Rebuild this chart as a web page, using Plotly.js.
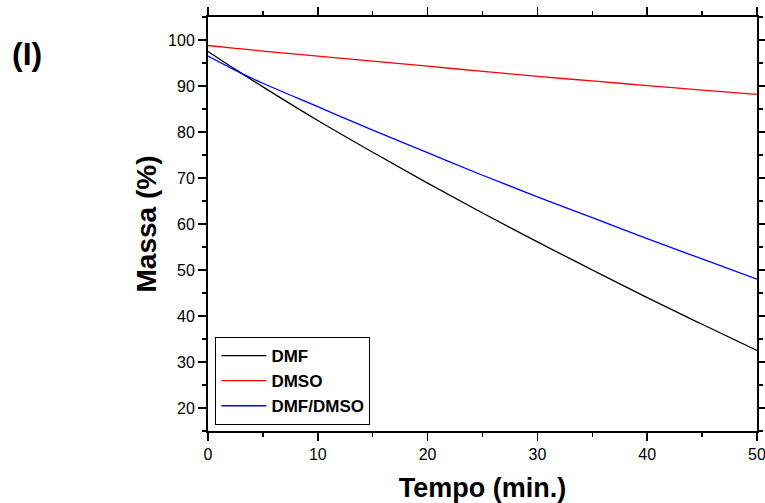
<!DOCTYPE html>
<html>
<head>
<meta charset="utf-8">
<script src="https://cdn.plot.ly/plotly-3.0.1.min.js"></script>
<style>html,body{margin:0;padding:0;background:#fff;}#chart{width:765px;height:503px;}</style>
</head>
<body>
<div id="chart"></div>
<script>
const tempo = [0, 2.5, 5, 10, 15, 20, 25, 30, 35, 40, 45, 50];
const dmf = [97.5, 93.6, 89.8, 82.5, 75.6, 68.9, 62.4, 56.1, 50.0, 44.0, 38.2, 32.5];
const dmso = [98.8, 98.2, 97.6, 96.5, 95.4, 94.3, 93.2, 92.1, 91.1, 90.1, 89.1, 88.2];
const dmfdmso = [96.5, 93.4, 90.6, 85.5, 80.4, 75.5, 70.6, 65.9, 61.4, 56.8, 52.4, 48.0];
const seriesNames = ['DMF', 'DMSO', 'DMF/DMSO'];
const xTicks = [0, 10, 20, 30, 40, 50];
const yTicks = [20, 30, 40, 50, 60, 70, 80, 90, 100];

const font = 'Arial, "Liberation Sans", sans-serif';
const traces = [
  {x: tempo, y: dmf, name: seriesNames[0], mode: 'lines', line: {color: '#000000', width: 1.3, shape: 'spline'}},
  {x: tempo, y: dmso, name: seriesNames[1], mode: 'lines', line: {color: '#ff0000', width: 1.3, shape: 'spline'}},
  {x: tempo, y: dmfdmso, name: seriesNames[2], mode: 'lines', line: {color: '#0000ff', width: 1.3, shape: 'spline'}}
];
const axisCommon = {
  showgrid: false, zeroline: false, showline: true, linecolor: '#000', linewidth: 2,
  mirror: 'ticks', ticks: 'outside', ticklen: 8, tickwidth: 1.5, tickcolor: '#000',
  tickfont: {family: font, size: 16, color: '#000'}, ticklabeloverflow: 'allow'
};
const layout = {
  width: 765, height: 503,
  margin: {l: 208, r: 8, t: 17, b: 72},
  paper_bgcolor: '#fff', plot_bgcolor: '#fff',
  showlegend: true,
  legend: {
    x: 0.0135, y: 0.0145, xanchor: 'left', yanchor: 'bottom',
    bordercolor: '#000', borderwidth: 1, bgcolor: '#fff',
    font: {family: font, size: 17, color: '#000', weight: 'bold'},
    itemwidth: 45, tracegroupgap: 0
  },
  xaxis: Object.assign({}, axisCommon, {
    range: [0, 50], tickvals: xTicks, ticktext: xTicks.map(String),
    minor: {dtick: 5, tick0: 0, ticklen: 4, tickwidth: 1.5, tickcolor: '#000', ticks: 'outside'},
    title: {text: 'Tempo (min.)', font: {family: font, size: 27, color: '#000', weight: 'bold'}, standoff: 18}
  }),
  yaxis: Object.assign({}, axisCommon, {
    range: [15, 105], tickvals: yTicks, ticktext: yTicks.map(String),
    minor: {dtick: 5, tick0: 0, ticklen: 4, tickwidth: 1.5, tickcolor: '#000', ticks: 'outside'},
    title: {text: 'Massa (%)', font: {family: font, size: 28, color: '#000', weight: 'bold'}, standoff: 3}
  }),
  annotations: [{
    text: '(I)', xref: 'paper', yref: 'paper', x: -0.329, y: 0.91,
    xanchor: 'center', yanchor: 'middle', showarrow: false,
    font: {family: font, size: 32, color: '#000', weight: 'bold'}
  }]
};
Plotly.newPlot('chart', traces, layout, {displayModeBar: false, staticPlot: true});
</script>
</body>
</html>
